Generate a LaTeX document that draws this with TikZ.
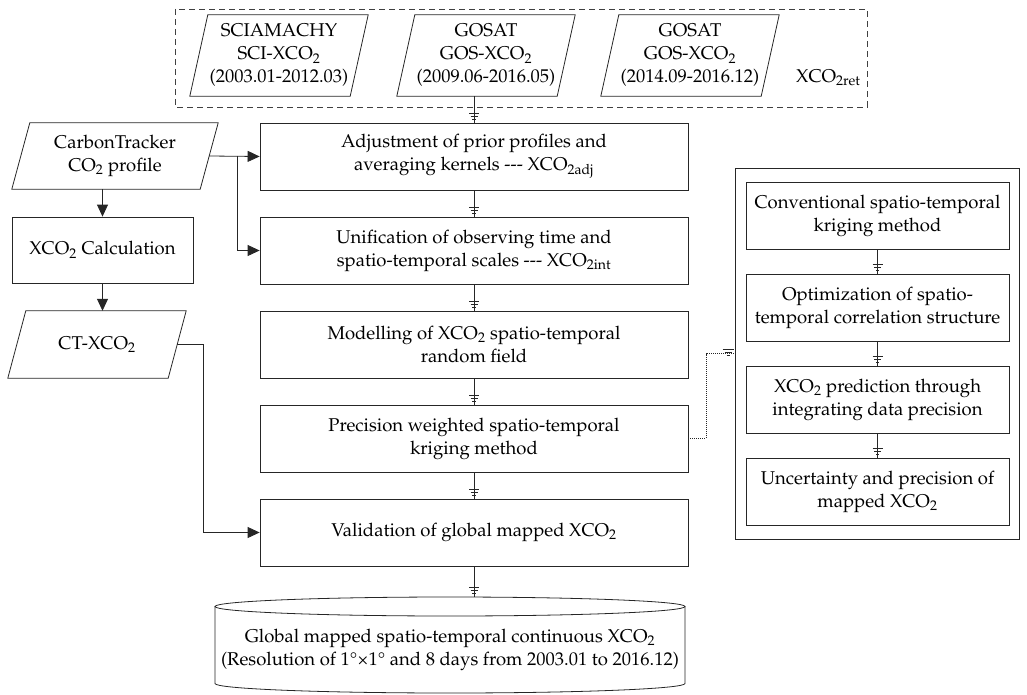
\documentclass[tikz,border=0pt]{standalone}
\usepackage[T1]{fontenc}
\usepackage{mathpazo}
\usetikzlibrary{arrows.meta,decorations.markings,calc}
\newcommand\dgmfont{\fontsize{18.5}{23}\selectfont}
\tikzset{
  base/.style={draw=black!85, line width=0.8pt},
  box/.style={base, rectangle, align=center, inner sep=2pt, font=\dgmfont},
  mbox/.style={box, minimum width=428pt, minimum height=67pt},
  ibox/.style={box, minimum width=263pt, minimum height=67pt},
  para/.style={rectangle, align=center, inner sep=0pt, font=\dgmfont,
    append after command={\pgfextra{\let\tln\tikzlastnode
      \draw[base] ([xshift=-9pt]\tln.south west) -- ([xshift=9pt]\tln.north west)
        -- ([xshift=9pt]\tln.north east) -- ([xshift=-9pt]\tln.south east) -- cycle;}}},
  tri/.style={-{Triangle[width=11pt,length=12pt]}},
  gnd/.style={postaction={decorate}, decoration={markings,
    mark=at position -0.1pt with {\draw[solid, draw=black!85, line width=0.8pt]
      (-9pt,-5pt)--(-9pt,5pt) (-6pt,-3.5pt)--(-6pt,3.5pt) (-3pt,-1.6pt)--(-3pt,1.6pt);}}},
  gndh/.style={postaction={decorate}, decoration={markings,
    mark=at position -0.1pt with {\draw[solid, draw=black!85, line width=0.8pt]
      (-12pt,4pt)--(-1pt,4pt) (-10pt,1pt)--(-3pt,1pt) (-8pt,-2pt)--(-5pt,-2pt);}}},
}
\begin{document}
\begin{tikzpicture}[x=1pt, y=-1pt]
\useasboundingbox (0,0) rectangle (1027,695);
% retrieval group
\draw[draw=black!75, line width=0.8pt, dash pattern=on 6pt off 4pt] (175,9) rectangle (867,107);
\node[para, minimum width=160pt, minimum height=81pt] (p1) at (279,55.5) {SCIAMACHY\\SCI-XCO\textsubscript{2}\\(2003.01-2012.03)};
\node[para, minimum width=160pt, minimum height=81pt] (p2) at (486,55.5) {GOSAT\\GOS-XCO\textsubscript{2}\\(2009.06-2016.05)};
\node[para, minimum width=160pt, minimum height=81pt] (p3) at (690,55.5) {GOSAT\\GOS-XCO\textsubscript{2}\\(2014.09-2016.12)};
\node[anchor=west, font=\dgmfont, inner sep=0pt] (ret) at (796,78) {XCO\textsubscript{2ret}};
% main column
\node[mbox] (b1) at (474,156.5) {Adjustment of prior profiles and\\averaging kernels -{}-{}- XCO\textsubscript{2adj}};
\node[mbox] (b2) at (474,250.5) {Unification of observing time and\\spatio-temporal scales -{}-{}- XCO\textsubscript{2int}};
\node[mbox] (b3) at (474,344.5) {Modelling of XCO\textsubscript{2} spatio-temporal\\random field};
\node[mbox] (b4) at (474,438.5) {Precision weighted spatio-temporal\\kriging method};
\node[mbox] (b5) at (474,532.5) {Validation of global mapped XCO\textsubscript{2}};
% cylinder
\node[minimum width=470pt, minimum height=96pt, inner sep=0pt] (cyl) at (450,645) {};
\draw[base] (450,606.5) ellipse [x radius=235pt, y radius=9.5pt];
\draw[base] (215,606.5) -- (215,683.5) arc[start angle=180, end angle=360, x radius=235pt, y radius=9.5pt] -- (685,606.5);
\node[align=center, font=\dgmfont, inner sep=0pt] (cyltext) at (450,650) {Global mapped spatio-temporal continuous XCO\textsubscript{2}\\(Resolution of 1\textdegree\texttimes1\textdegree{} and 8 days from 2003.01 to 2016.12)};
% left column
\node[para, minimum width=188pt, minimum height=66pt] (ct) at (115,156) {CarbonTracker\\CO\textsubscript{2} profile};
\node[box, minimum width=181pt, minimum height=66pt] (calc) at (102.5,250) {XCO\textsubscript{2} Calculation};
\node[para, minimum width=160pt, minimum height=67pt] (ctx) at (97,344.5) {CT-XCO\textsubscript{2}};
% right panel
\node[base, draw, minimum width=284pt, minimum height=371pt, inner sep=0pt] (panel) at (877,353.5) {};
\node[ibox] (i1) at (877.5,215.5) {Conventional spatio-temporal\\kriging method};
\node[ibox] (i2) at (877.5,307.5) {Optimization of spatio-\\temporal correlation structure};
\node[ibox] (i3) at (877.5,399.5) {XCO\textsubscript{2} prediction through\\integrating data precision};
\node[ibox] (i4) at (877.5,491.5) {Uncertainty and precision of\\mapped XCO\textsubscript{2}};
% junction coordinates
\coordinate (j1) at (237,0);
\coordinate (j2) at (203,0);
\coordinate (dx) at (706,0);
% connectors
\draw[base, gnd] (b1.north |- p2.south) -- (b1.north);
\draw[base, gnd] (b1) -- (b2);
\draw[base, gnd] (b2) -- (b3);
\draw[base, gnd] (b3) -- (b4);
\draw[base, gnd] (b4) -- (b5);
\draw[base, gnd] (b5.south) -- (b5.south |- cyl.north);
\draw[base, gnd] (i1) -- (i2);
\draw[base, gnd] (i2) -- (i3);
\draw[base, gnd] (i3) -- (i4);
\draw[base, dash pattern=on 1pt off 1pt, gndh] (b4.east) -- (b4.east -| dx) |- (panel.west);
\draw[base, tri] (ct.east) -- (b1.west);
\draw[base, tri] (ct.east -| j1) |- (b2.west);
\draw[base, tri] (calc.north |- ct.south) -- (calc.north);
\draw[base, tri] (calc.south) -- (calc.south |- ctx.north);
\draw[base, tri] (ctx.east) -- (ctx.east -| j2) |- (b5.west);
\end{tikzpicture}
\end{document}
